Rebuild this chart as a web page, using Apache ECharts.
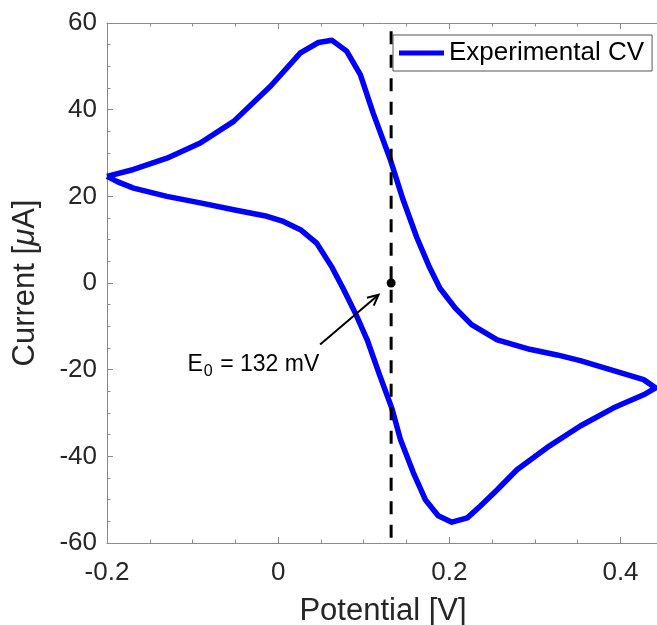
<!DOCTYPE html>
<html>
<head>
<meta charset="utf-8">
<script src="https://cdn.jsdelivr.net/npm/echarts@6/dist/echarts.min.js"></script>
<style>
  html, body { margin: 0; padding: 0; background: #fff; }
  #main { width: 657px; height: 625px; }
</style>
</head>
<body>
<div id="main"></div>
<script>
// cyclic voltammogram (V, uA)
// upper branch left -> right, then lower branch back to the start
var potentialV = [
  -0.2, -0.169, -0.130, -0.091, -0.052, -0.009, 0.026, 0.047, 0.063, 0.080,
  0.096, 0.111, 0.131, 0.146, 0.162, 0.176, 0.189, 0.207, 0.226, 0.256,
  0.294, 0.326, 0.353, 0.392, 0.427, 0.441,
  0.427, 0.392, 0.353, 0.314, 0.279, 0.256, 0.236, 0.221, 0.203, 0.187,
  0.172, 0.158, 0.143, 0.133, 0.119, 0.104, 0.091, 0.0765, 0.063, 0.045,
  0.026, 0.006, -0.013, -0.052, -0.091, -0.130, -0.169, -0.188, -0.2
];
var currentUA = [
  24.6, 26.2, 28.8, 32.3, 37.3, 45.4, 53.1, 55.5, 56.0, 53.5,
  48.1, 39.2, 28.5, 19.2, 10.5, 4.0, -1.2, -5.8, -9.6, -13.1,
  -15.3, -16.6, -17.9, -20.2, -22.3, -24.2,
  -25.8, -28.8, -33.0, -38.0, -43.1, -47.7, -51.5, -54.2, -55.2, -53.7,
  -50.0, -43.8, -36.2, -29.0, -21.5, -13.1, -7.3, -1.5, 3.6, 9.2,
  12.3, 14.2, 15.4, 16.9, 18.5, 20.0, 21.9, 23.4, 24.6
];
var e0 = 0.132;
var e0LineY = [58.1, -59.3];
var arrowFrom = [0.049, -14.2];
var arrowTo = [0.1173, -2.7];
var labelAt = [-0.1065, -18.8];
var xTicks = { min: -0.2, max: 0.445, step: 0.2 };
var yTicks = { min: -60, max: 60, step: 20 };

var FONT = '"Liberation Sans", Arial, Helvetica, sans-serif';
var axisGray = '#8a8a8a';

var cvData = potentialV.map(function (x, i) { return [x, currentUA[i]]; });

var chart = echarts.init(document.getElementById('main'));

var xAxisBase = {
  type: 'value',
  min: xTicks.min,
  max: xTicks.max,
  interval: xTicks.step,
  splitLine: { show: false },
  axisLine: { onZero: false, lineStyle: { color: axisGray, width: 1 } },
  axisTick: { inside: true, length: 6, lineStyle: { color: axisGray } },
  minorTick: { show: true, splitNumber: 4, length: 3.5, lineStyle: { color: axisGray } }
};

chart.setOption({
  animation: false,
  backgroundColor: '#fff',
  grid: { left: 107, top: 23, right: -2, bottom: 82, containLabel: false, outerBoundsMode: 'none' },
  legend: {
    data: ['Experimental CV'],
    left: 393, top: 35,
    orient: 'vertical',
    icon: 'rect',
    itemWidth: 45, itemHeight: 5,
    itemGap: 0,
    padding: [5, 8, 5, 6],
    backgroundColor: '#fff',
    borderColor: '#555',
    borderWidth: 1,
    borderRadius: 0,
    textStyle: { fontFamily: FONT, fontSize: 26, color: '#000' }
  },
  xAxis: [
    Object.assign({}, xAxisBase, {
      position: 'bottom',
      name: 'Potential [V]',
      nameLocation: 'middle',
      nameGap: 53,
      nameTextStyle: { fontFamily: FONT, fontSize: 31, color: '#262626' },
      axisLabel: { margin: 17, fontFamily: FONT, fontSize: 26, color: '#262626' }
    }),
    Object.assign({}, xAxisBase, {
      position: 'top',
      axisLabel: { show: false }
    })
  ],
  yAxis: {
    type: 'value',
    min: yTicks.min,
    max: yTicks.max,
    interval: yTicks.step,
    name: 'Current [{mu|μ}A]',
    nameLocation: 'middle',
    nameGap: 66,
    nameTextStyle: {
      fontFamily: FONT, fontSize: 31, color: '#262626',
      rich: { mu: { fontFamily: FONT, fontSize: 31, fontStyle: 'italic', color: '#262626' } }
    },
    splitLine: { show: false },
    axisLine: { onZero: false, lineStyle: { color: axisGray, width: 1 } },
    axisTick: { inside: true, length: 6, lineStyle: { color: axisGray } },
    minorTick: { show: true, splitNumber: 4, length: 3.5, lineStyle: { color: axisGray } },
    axisLabel: { margin: 10, fontFamily: FONT, fontSize: 26, color: '#262626' }
  },
  series: [
    {
      name: 'Experimental CV',
      type: 'line',
      data: cvData,
      showSymbol: false,
      symbol: 'none',
      smooth: false,
      lineStyle: { color: '#0000ff', width: 5.5, join: 'round' },
      itemStyle: { color: '#0000ff' },
      z: 2
    },
    {
      name: 'E0 line',
      type: 'line',
      data: e0LineY.map(function (y) { return [e0, y]; }),
      symbol: 'none',
      lineStyle: { color: '#000', width: 3, type: [13, 10.5] },
      z: 3
    },
    {
      name: 'E0 point',
      type: 'scatter',
      data: [[e0, 0]],
      symbolSize: 9,
      itemStyle: { color: '#000', opacity: 1 },
      z: 4
    },
    {
      name: 'arrow',
      type: 'custom',
      data: [[arrowFrom[0], arrowFrom[1], arrowTo[0], arrowTo[1]]],
      encode: { x: [0, 2], y: [1, 3] },
      renderItem: function (params, api) {
        var p0 = api.coord([api.value(0), api.value(1)]);
        var p1 = api.coord([api.value(2), api.value(3)]);
        var ang = Math.atan2(p1[1] - p0[1], p1[0] - p0[0]);
        var len = 12, spread = 0.45;
        var h1 = [p1[0] - len * Math.cos(ang - spread), p1[1] - len * Math.sin(ang - spread)];
        var h2 = [p1[0] - len * Math.cos(ang + spread), p1[1] - len * Math.sin(ang + spread)];
        var st = { stroke: '#000', lineWidth: 2, fill: null };
        return {
          type: 'group',
          children: [
            { type: 'line', shape: { x1: p0[0], y1: p0[1], x2: p1[0], y2: p1[1] }, style: st },
            { type: 'polyline', shape: { points: [h1, p1, h2] }, style: st }
          ]
        };
      },
      z: 4
    },
    {
      name: 'E0 label',
      type: 'scatter',
      data: [labelAt],
      symbolSize: 1,
      itemStyle: { color: 'rgba(0,0,0,0)', opacity: 1 },
      label: {
        show: true,
        position: 'right',
        distance: 0,
        color: '#000',
        formatter: '{e|E}{s|0}{e| = 132 mV}',
        rich: {
          e: { fontFamily: FONT, fontSize: 23, color: '#000', lineHeight: 30, verticalAlign: 'middle' },
          s: { fontFamily: FONT, fontSize: 16, color: '#000', lineHeight: 30, verticalAlign: 'bottom', padding: [0, 1, 0, 1] }
        }
      },
      z: 4
    }
  ]
});
</script>
</body>
</html>
